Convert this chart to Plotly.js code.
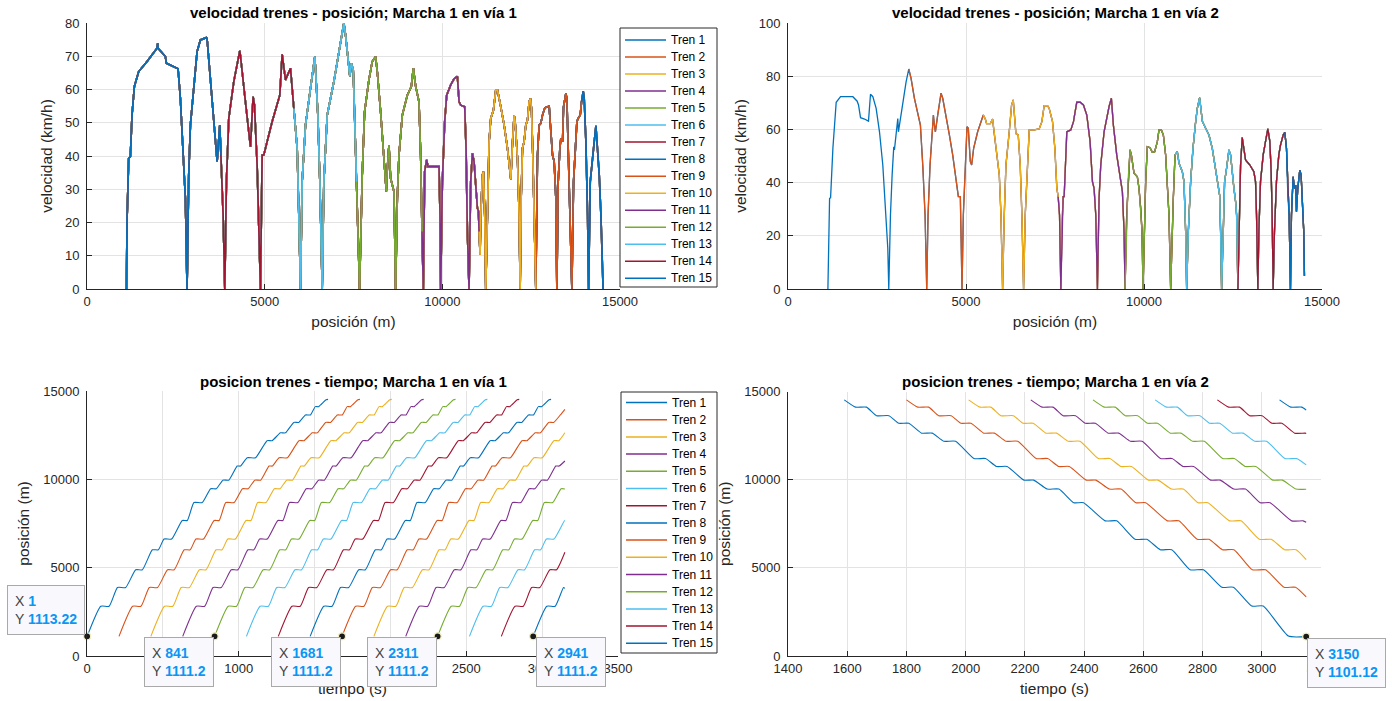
<!DOCTYPE html>
<html>
<head>
<meta charset="utf-8">
<script src="https://cdn.plot.ly/plotly-3.0.1.min.js"></script>
<style>html,body{margin:0;padding:0;background:#fff;}#chart{width:1392px;height:701px;}</style>
</head>
<body>
<div id="chart"></div>
<script>
// ---------------- DATA ----------------
const trainNames = ['Tren 1','Tren 2','Tren 3','Tren 4','Tren 5','Tren 6','Tren 7','Tren 8','Tren 9','Tren 10','Tren 11','Tren 12','Tren 13','Tren 14','Tren 15'];
const palette = ['#0072BD','#D95319','#EDB120','#7E2F8E','#77AC30','#4DBEEE','#A2142F'];

const simEnd = 3150;
// track 1 (via 1): departure times and last position reached at simEnd
const startT1 = [1, 211, 421, 631, 841, 1051, 1261, 1471, 1681, 1891, 2101, 2311, 2521, 2731, 2941];
const endPos1 = [14524, 14524, 14524, 14524, 14524, 14524, 14524, 14524, 13964, 12640, 11038, 9453, 7660, 5870, 3830];
// track 2 (via 2)
const startT2 = [1590, 1800, 2010, 2220, 2430, 2640, 2850, 3060];
const endPos2 = [1101, 3348, 5465, 7588, 9460, 10840, 12617, 13944];

// velocity profile via 1 (position m, speed km/h)
const pos1 = [1111,1126,1173,1220,1267,1333,1455,1690,1971,1990,2000,2206,2234,2563,2628,2704,2769,2816,
 2863,2910,3004,3098,3192,3361,3380,3474,3568,3662,3737,3775,3831,3878,
 3924,3990,4131,4300,4320,4459,4600,4675,4713,4788,4835,4882,
 4929,4976,5210,5426,5492,5586,5727,5821,5915,5962,6009,
 6055,6149,6290,6412,6431,6497,6553,6619,
 6666,6760,6948,7229,7276,7398,7436,7492,7530,7586,7671,
 7746,7812,7934,8028,8122,8169,8263,8357,8423,8451,8498,8545,8639,8686,
 8733,8780,8874,9015,9127,9183,9249,9343,9390,9428,9465,
 9503,9559,9597,9907,9935,9954,
 10001,10067,10123,10236,10330,10424,10471,10518,10630,10668,10705,10752,
 10799,10846,10893,10940,10987,11015,11034,11062,11081,11128,11156,11194,11222,
 11269,11316,11363,11438,11504,11551,11645,11739,11833,11927,11974,12021,12049,12115,12162,12190,
 12218,12255,12302,12349,12396,12443,12481,12509,12546,12584,12631,
 12678,12725,12772,12819,12885,13007,13035,13101,13148,13195,13223,
 13261,13308,13336,13383,13411,13477,13505,13542,13599,13646,
 13693,13740,13787,13824,13881,13918,13965,13993,14040,14087,14116,
 14163,14228,14275,14322,14369,14416,14463,14524];
const vel1 = [0,20.2,39.3,39.8,52.3,60.9,65.4,68.4,72.4,73.9,72.4,69.9,67.9,66.2,57.3,42.3,27.3,0,
 34.3,49.3,61.4,71.4,74.9,75.6,75.2,62.4,50.4,38.4,49.3,40.3,22.3,0,
 32.3,51.3,62.4,71.6,70,56.3,42.8,57.8,55.3,37.3,17.2,0,
 40.3,40.3,50.3,58.3,70.6,62.9,66.4,54.3,42.3,22,0,
 32.3,49.3,60.4,69.9,66.4,52.3,32.3,0,
 32.3,52.3,62.4,80,76.4,63.9,67.9,66,52.3,32.3,0,
 34.3,53.3,62.9,68.4,69.9,65.4,53.3,40.3,29.3,36,43.3,33.3,29.3,0,
 27.3,40.3,52.3,58.3,60.9,66.4,61,56.3,40.3,17.3,0,
 35.3,38.8,36.8,36.8,22,0,
 32.3,50.4,58.3,61.4,63.2,63.9,56.3,55.3,54.8,42.3,17.3,0,
 32.3,40.8,38.3,32.3,24.3,23.5,17.3,10.2,22,34.3,35.3,22,0,
 27.3,44.3,51.3,53.8,59.8,59.8,54.8,49.3,42.3,33,44,52.3,50.3,39.3,22,0,
 27.3,42.3,44.3,49.3,50.8,56.3,57.3,54.3,40.3,17.3,0,
 40.3,49.3,49.8,52.3,54.5,55,50.3,40.3,38.3,27.3,0,
 32.3,42.3,45.3,44.3,54.8,58.8,57.3,42.3,22.3,0,
 32.3,42.3,50.4,51.3,52.3,56.3,59.5,57.3,44.3,22.3,0,
 32.3,40.3,44.3,49.1,42.3,34.3,22.3,0];

// velocity profile via 2 (position m, speed km/h)
const pos2 = [1121,1168,1196,1261,1354,1476,1822,1943,1981,2037,2149,2261,2317,2383,2476,2570,2663,2757,2803,2831,
 2878,2925,2971,2990,3037,3084,3102,3130,3224,3317,3392,3457,3551,3645,3719,3785,3850,3897,
 3934,3990,4037,4084,4112,4140,4205,4299,4346,4439,4533,4626,4720,4785,4841,4860,4888,
 4925,4972,5028,5065,5121,5159,5215,5327,5420,5486,5542,5579,5682,5748,5776,5841,5935,5982,6028,
 6075,6122,6215,6281,6327,6355,6402,6467,6523,6570,6617,
 6664,6729,6776,6916,7056,7131,7196,7290,7337,7430,7496,7552,7589,7627,7664,
 7701,7729,7757,7804,7832,7944,8019,8066,8112,8206,8299,8393,8486,8552,8598,8645,8692,
 8738,8785,8879,8953,9019,9084,9140,9234,9327,9393,9440,9468,
 9514,9552,9608,9645,9720,9813,9860,9907,9945,9973,
 10010,10047,10094,10169,10234,10300,10375,10421,10487,10543,10608,10655,10702,10749,
 10796,10824,10871,10936,10983,11076,11123,11170,11198,
 11245,11310,11376,11451,11497,11563,11591,11638,11731,11825,11918,12012,12077,12124,12152,12180,
 12227,12264,12320,12386,12432,12479,12526,12573,12601,12638,
 12675,12713,12759,12825,12853,12974,13086,13133,13161,13198,
 13226,13273,13348,13413,13479,13535,13572,13600,13628,
 13665,13721,13787,13834,13909,13955,14002,14040,14077,14114,
 14142,14189,14226,14264,14282,14320,14376,14413,14451,14488,14507];
const vel2 = [0,34.1,34.3,52.9,70.2,72.3,72.3,70.6,69.2,64.4,63.9,63.1,73.2,72.3,67.9,59.1,46.6,27.8,15.3,0,
 27.8,42.9,53.5,52.3,59.1,64.1,59.1,61.6,70.4,77.9,82.7,79.2,71.7,65.4,61.6,46.6,27.8,0,
 27.8,46.6,57.9,65.4,61.6,59.1,65.4,73.6,71.7,65.4,57.9,50.4,41.6,34.7,34.7,21.5,0,
 27.8,46.6,61,60.4,47.9,46.6,52.9,59.1,62.9,65.4,63.9,62.2,62.2,63.9,60.4,52.9,42.9,27.8,0,
 27.8,46.6,59.1,69.2,71.1,65.4,58.4,57.9,46.6,27.8,0,
 27.8,50.4,59.8,59.8,60.2,62.9,68.9,68.9,67.9,62.9,52.9,37.8,34.7,27.8,0,
 25.3,34.7,34.7,50.4,59.1,59.8,62.9,66.7,70.2,70.2,69.2,65.4,55.4,40.4,37.8,27.8,0,
 34.1,46.6,59.1,64.7,68.6,71.7,61.6,50.4,42.9,36.6,21.5,0,
 27.8,40.4,52.3,50.4,43.5,42.2,37.8,30.3,21.5,0,
 21.5,40.4,53.5,53.1,51.4,51.6,55.4,59.8,59.8,57.9,50.4,40.4,27.8,0,
 27.8,34.1,50.4,51.6,47.3,44.1,40.4,21.5,0,
 21.5,40.4,52.9,62.9,67.9,71.9,69.2,63.1,60.4,57.9,52.9,45.4,40.4,35.3,21.5,0,
 21.5,40.4,45.4,52.3,50.4,42.9,37.8,32.8,27.8,0,
 27.8,46.6,56.9,50.4,48.5,46.6,44.1,40.4,27.8,0,
 21.5,40.4,50.4,55.4,60.2,55.4,44.1,27.8,0,
 21.5,40.4,50.4,54.1,57.9,58.9,52.9,35.3,27.8,0,
 27.8,42.2,37.8,39,29.1,37.8,44.7,42.9,32.8,21.5,5];

// position-time run of one train on via 1 (time after departure s, position m)
const runT1 = [0,90,145,200,254,320,364,430,469,507,557,627,660,704,759,814,851,895,934,989,1011,1055,1110,1186,1219,1274,1307,1362,1395,1439,1472,1504,1526,1575,1588];
const runP1 = [1112,2816,2816,3878,3878,4882,4882,6009,6009,6619,6619,7671,7671,8686,8686,9465,9465,9954,9954,10752,10752,11222,11222,12190,12190,12631,12631,13223,13223,13646,13646,14116,14116,14500,14524];
// position-time run of one train on via 2
const runT2 = [0,38,75,109,151,184,218,261,297,336,376,438,477,514,550,607,640,685,725,775,808,881,920,982,1022,1067,1106,1168,1213,1275,1314,1376,1415,1500,1560];
const runP2 = [14524,14114,14114,13628,13628,13198,13198,12638,12638,12180,12180,11198,11198,10749,10749,9973,9973,9468,9468,8692,8692,7664,7664,6617,6617,6028,6028,4888,4888,3897,3897,2831,2831,1130,1101];

// data tips
const tipX1 = [1, 841, 1681, 2311, 2941];
const tipY1 = [1113.22, 1111.2, 1111.2, 1111.2, 1111.2];
const tipX2 = [3150];
const tipY2 = [1101.12];

// ---------------- BUILD ----------------
const W = 1392, H = 701;
const px = v => v / W, py = v => 1 - v / H;
const FONT = 'Liberation Sans, Arial, Helvetica, sans-serif';
const TXT = '#262626';
const colorOf = i => palette[i % palette.length];

const traces = [];
// top-left: speed vs position via 1
trainNames.forEach((nm, i) => {
  const x = [], y = [];
  pos1.forEach((p, j) => { if (p <= endPos1[i]) { x.push(p); y.push(vel1[j]); } });
  traces.push({type:'scatter', mode:'lines', x, y, name:nm, showlegend:false,
    line:{color:colorOf(i), width:1.6}, xaxis:'x', yaxis:'y', hoverinfo:'skip'});
});
// top-right: speed vs position via 2
startT2.forEach((s, i) => {
  const x = [], y = [];
  pos2.forEach((p, j) => { if (p >= endPos2[i]) { x.push(p); y.push(vel2[j]); } });
  traces.push({type:'scatter', mode:'lines', x, y, name:trainNames[i], showlegend:false,
    line:{color:colorOf(i), width:1.3}, xaxis:'x2', yaxis:'y2', hoverinfo:'skip'});
});
// bottom-left: position vs time via 1
startT1.forEach((s, i) => {
  const x = [], y = [];
  runT1.forEach((t, j) => { if (s + t <= simEnd) { x.push(s + t); y.push(runP1[j]); } });
  if (s + runT1[runT1.length - 1] > simEnd) { x.push(simEnd); y.push(endPos1[i]); }
  traces.push({type:'scatter', mode:'lines', x, y, name:trainNames[i], showlegend:false,
    line:{color:colorOf(i), width:1.1, shape:'spline', smoothing:0.5}, xaxis:'x3', yaxis:'y3', hoverinfo:'skip'});
});
// bottom-right: position vs time via 2
startT2.forEach((s, i) => {
  const x = [], y = [];
  runT2.forEach((t, j) => { if (s + t <= simEnd) { x.push(s + t); y.push(runP2[j]); } });
  if (s + runT2[runT2.length - 1] > simEnd) { x.push(simEnd); y.push(endPos2[i]); }
  traces.push({type:'scatter', mode:'lines', x, y, name:trainNames[i], showlegend:false,
    line:{color:colorOf(i), width:1.1, shape:'spline', smoothing:0.5}, xaxis:'x4', yaxis:'y4', hoverinfo:'skip'});
});
// data tip markers
const tipMarker = {size:7, color:'#1a1a1a', line:{color:'#f3efc0', width:1.2}};
traces.push({type:'scatter', mode:'markers', x:tipX1, y:tipY1, xaxis:'x3', yaxis:'y3', marker:tipMarker, showlegend:false, cliponaxis:false, hoverinfo:'skip'});
traces.push({type:'scatter', mode:'markers', x:tipX2, y:tipY2, xaxis:'x4', yaxis:'y4', marker:tipMarker, showlegend:false, cliponaxis:false, hoverinfo:'skip'});

// axes
function axis(extra) {
  return Object.assign({
    showline:true, linecolor:TXT, linewidth:1, mirror:false,
    ticks:'inside', ticklen:5, tickcolor:TXT, tickwidth:1,
    showgrid:true, gridcolor:'#e3e3e3', gridwidth:1, zeroline:false,
    tickformat:'d', separatethousands:false, exponentformat:'none',
    tickfont:{family:FONT, size:13, color:TXT}, automargin:false, fixedrange:true
  }, extra);
}
const titleFont = {family:FONT, size:15.5, color:TXT};

const layout = {
  width:W, height:H, margin:{l:0, r:0, t:0, b:0},
  paper_bgcolor:'#ffffff', plot_bgcolor:'#ffffff', showlegend:false,
  font:{family:FONT, color:TXT},
  xaxis: axis({domain:[px(87), px(620)], anchor:'y', range:[0,15000], tickvals:[0,5000,10000,15000],
    title:{text:'posición (m)', font:titleFont, standoff:8}}),
  yaxis: axis({domain:[py(289), py(23)], anchor:'x', range:[0,80], dtick:10, ticklabelstandoff:4,
    title:{text:'velocidad (km/h)', font:titleFont, standoff:8}}),
  xaxis2: axis({domain:[px(788), px(1322)], anchor:'y2', range:[0,15000], tickvals:[0,5000,10000,15000],
    title:{text:'posición (m)', font:titleFont, standoff:8}}),
  yaxis2: axis({domain:[py(289), py(23)], anchor:'x2', range:[0,100], dtick:20, ticklabelstandoff:4,
    title:{text:'velocidad (km/h)', font:titleFont, standoff:8}}),
  xaxis3: axis({domain:[px(87), px(618)], anchor:'y3', range:[0,3500], dtick:500,
    title:{text:'tiempo (s)', font:titleFont, standoff:8}}),
  yaxis3: axis({domain:[py(656), py(391)], anchor:'x3', range:[0,15000], dtick:5000, ticklabelstandoff:4,
    title:{text:'posición (m)', font:titleFont, standoff:9}}),
  xaxis4: axis({domain:[px(788), px(1321)], anchor:'y4', range:[1400,3200], dtick:200,
    title:{text:'tiempo (s)', font:titleFont, standoff:8}}),
  yaxis4: axis({domain:[py(656), py(391.5)], anchor:'x4', range:[0,15000], dtick:5000, ticklabelstandoff:4,
    title:{text:'posición (m)', font:titleFont, standoff:9}}),
  annotations: [], shapes: []
};

// subplot titles
const titles = [
  ['velocidad trenes - posición; Marcha 1 en vía 1', 353.5, 12],
  ['velocidad trenes - posición; Marcha 1 en vía 2', 1055, 12],
  ['posicion trenes - tiempo; Marcha 1 en vía 1', 353, 381],
  ['posicion trenes - tiempo; Marcha 1 en vía 2', 1055, 381]
];
titles.forEach(([t, x, y]) => layout.annotations.push({text:'<b>'+t+'</b>', xref:'paper', yref:'paper',
  x:px(x), y:py(y), xanchor:'center', yanchor:'middle', showarrow:false, font:{family:FONT, size:15, color:'#000'}}));

// legends (two, for the left-hand plots)
function legend(x0, x1, y0, y1, firstY, step) {
  layout.shapes.push({type:'rect', xref:'paper', yref:'paper', x0:px(x0), x1:px(x1), y0:py(y1), y1:py(y0),
    line:{color:'#2b2b2b', width:1}, fillcolor:'#ffffff', layer:'above'});
  trainNames.forEach((nm, i) => {
    const yy = firstY + i * step;
    layout.shapes.push({type:'line', xref:'paper', yref:'paper', x0:px(x0+5), x1:px(x0+46), y0:py(yy), y1:py(yy),
      line:{color:colorOf(i), width:1.5}, layer:'above'});
    layout.annotations.push({text:nm, xref:'paper', yref:'paper', x:px(x0+49), y:py(yy), xanchor:'left', yanchor:'middle',
      showarrow:false, font:{family:FONT, size:12, color:'#000'}});
  });
}
legend(620, 717, 28, 287, 40, 17.02);
legend(621, 717, 392, 653, 402.5, 17.2);

// data tip boxes
const tipStyle = [
  {xanchor:'right', yanchor:'bottom', xshift:-2, yshift:1},
  {xanchor:'right', yanchor:'top', xshift:-1, yshift:-1},
  {xanchor:'right', yanchor:'top', xshift:-1, yshift:-1},
  {xanchor:'right', yanchor:'top', xshift:-1, yshift:-1},
  {xanchor:'left', yanchor:'top', xshift:3, yshift:-1}
];
const val = v => '<span style="color:#0a96f5"><b>' + v + '</b></span>';
function tip(x, y, xr, yr, st) {
  layout.annotations.push(Object.assign({
    text:'X ' + val(x) + '<br>Y ' + val(y), align:'left', xref:xr, yref:yr, x, y, showarrow:false,
    bgcolor:'#f9f9fd', bordercolor:'#a9a9a9', borderwidth:1, borderpad:7,
    font:{family:FONT, size:14, color:'#444'}
  }, st));
}
tipX1.forEach((x, i) => tip(x, tipY1[i], 'x3', 'y3', tipStyle[i]));
tip(tipX2[0], tipY2[0], 'x4', 'y4', {xanchor:'left', yanchor:'top', xshift:1, yshift:-1});

Plotly.newPlot('chart', traces, layout, {staticPlot:true, displayModeBar:false});
</script>
</body>
</html>
